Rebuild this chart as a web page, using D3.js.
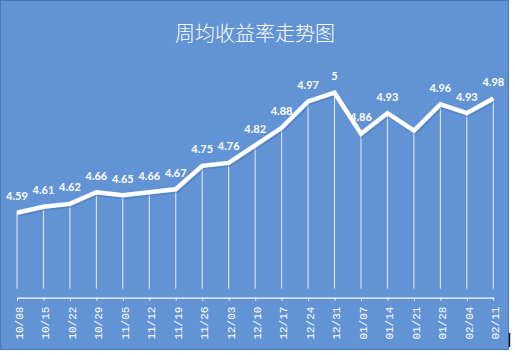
<!DOCTYPE html>
<html><head><meta charset="utf-8">
<script src="https://cdn.jsdelivr.net/npm/d3@7/dist/d3.min.js"></script>
<style>html,body{margin:0;padding:0;background:#fff;}svg{display:block;}</style>
</head><body>
<script>
const title = "周均收益率走势图";
const categories = ["10/08","10/15","10/22","10/29","11/05","11/12","11/19","11/26","12/03","12/10","12/17","12/24","12/31","01/07","01/14","01/21","01/28","02/04","02/11"];
const values = [4.59,4.61,4.62,4.66,4.65,4.66,4.67,4.75,4.76,4.82,4.88,4.97,5.00,4.86,4.93,4.87,4.96,4.93,4.98];
const labelTexts = ["4.59","4.61","4.62","4.66","4.65","4.66","4.67","4.75","4.76","4.82","4.88","4.97","5","4.86","4.93",null,"4.96","4.93","4.98"];
const yDomain = [4.3, 5.1];

const W = 515, H = 355;
const svg = d3.select("body").append("svg").attr("width", W).attr("height", H);

svg.append("rect").attr("x",0.5).attr("y",0.5).attr("width",508).attr("height",349)
  .attr("fill","#6294d5").attr("stroke","#4b79b3").attr("stroke-width",1);
svg.append("line").attr("x1",509.5).attr("x2",509.5).attr("y1",333).attr("y2",347).attr("stroke","#111").attr("stroke-width",1.5);

svg.append("text").attr("x",255).attr("y",32).attr("text-anchor","middle").attr("dominant-baseline","central")
  .attr("fill","#fff").style("font-family","'Noto Sans CJK SC'").style("font-weight",300).style("font-size","20px").text(title);

const x = d3.scalePoint().domain(categories).range([17, 493.3]);
const y = d3.scaleLinear().domain(yDomain).range([297.6, 63.4]);
const data = categories.map((c,i)=>({c, v: values[i], t: labelTexts[i]}));

// drop lines
svg.append("g").selectAll("line").data(data).join("line")
  .attr("x1", d=>x(d.c)).attr("x2", d=>x(d.c))
  .attr("y1", d=>y(d.v)).attr("y2", y(yDomain[0]) - 9)
  .attr("stroke","#fff").attr("stroke-opacity",0.85).attr("stroke-width",1);

// axis
const axis = d3.axisBottom(x).tickSize(3).tickSizeOuter(0).tickFormat(()=> "");
const ag = svg.append("g").attr("transform",`translate(0,${y(yDomain[0])})`).call(axis);
ag.select(".domain").attr("stroke","#fff").attr("stroke-width",1.2);
ag.selectAll(".tick line").attr("stroke","#fff");
ag.selectAll(".tick").append("text")
  .attr("transform","translate(1.5,9) rotate(-90)")
  .attr("text-anchor","end").attr("dy","0.35em").attr("x",0).attr("y",0)
  .attr("fill","#fff").style("font-family","'Liberation Mono'").style("font-size","11px")
  .text(d=>d);

// main line
const line = d3.line().x(d=>x(d.c)).y(d=>y(d.v));
svg.append("path").datum(data).attr("d",line).attr("fill","none")
  .attr("stroke","#3d6aa3").attr("stroke-opacity",0.35).attr("stroke-width",5).attr("transform","translate(1,1.5)");
svg.append("path").datum(data).attr("d",line).attr("fill","none")
  .attr("stroke","#fff").attr("stroke-width",4.5).attr("stroke-linejoin","miter");

// labels
svg.append("g").selectAll("text").data(data.filter(d=>d.t)).join("text")
  .attr("x", d=>x(d.c)).attr("y", d=>y(d.v)-12.5).attr("text-anchor","middle")
  .attr("fill","#fff").style("font-family","Lato").style("font-weight",700).style("font-size","11px")
  .text(d=>d.t);
</script>
</body></html>
